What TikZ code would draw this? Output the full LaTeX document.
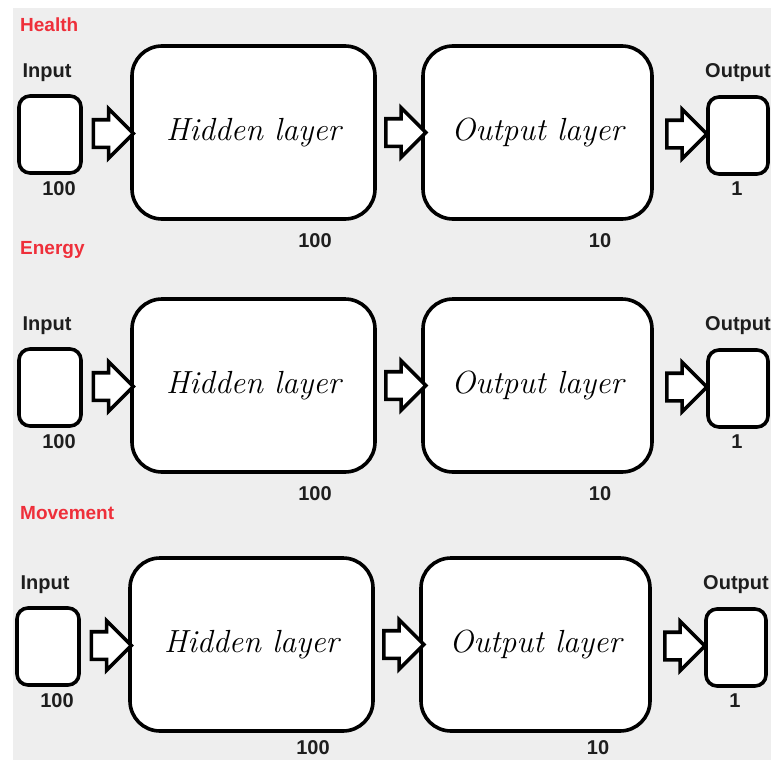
\documentclass[tikz,border=0pt]{standalone}
\usepackage{fontspec}
\setsansfont{Liberation Sans}
\usepackage{tikz}
\usetikzlibrary{shapes.arrows,calc}
\definecolor{bggray}{HTML}{EEEEEE}
\definecolor{titlered}{HTML}{EE2F3A}
\definecolor{labelgray}{HTML}{1E1E1E}
\tikzstyle{smallbox}=[draw=black, fill=white, line width=3.6pt, rounded corners=11pt, inner sep=0, minimum width=62pt, minimum height=77pt]
\tikzstyle{layerbox}=[draw=black, fill=white, line width=3.6pt, rounded corners=30pt, inner sep=0, minimum height=173pt, font=\fontsize{32}{38}\selectfont\itshape]
\tikzstyle{blockarrow}=[single arrow, draw=black, fill=white, line width=3.6pt, inner xsep=0, inner ysep=12pt, minimum height=40pt, minimum width=46pt, single arrow head extend=11pt]
\tikzstyle{tag}=[text=labelgray, font=\fontsize{20}{24}\selectfont\sffamily\bfseries, inner sep=0]
\tikzstyle{title}=[text=titlered, anchor=west, font=\fontsize{19}{23}\selectfont\sffamily\bfseries, inner sep=0]

\begin{document}
\begin{tikzpicture}[x=1pt, y=-1pt]
	\useasboundingbox (0,0) rectangle (771,760);
	\fill[bggray] (13,8) rectangle (771,760);
	\node[title] (t1) at (20,25){Health};
	\node[title] (t2) at (20,250){Energy};
	\node[title] (t3) at (20,513){Movement};
	\foreach \r/\dx/\dy/\ny in {1/0/0/241, 2/0/253/241, 3/-2/512/236}{
	\begin{scope}[shift={(\dx,\dy)}]
		\node[smallbox] (in\r) at (50,134.5){};
		\node[layerbox, minimum width=243pt] (hid\r) at (253.5,132.5){Hidden layer};
		\node[layerbox, minimum width=229pt] (ol\r) at (537.5,132.5){Output layer};
		\node[smallbox, minimum width=60pt] (res\r) at (738,135.5){};
		\node[tag] (inl\r) at (47,73){Input};
		\node[tag] (resl\r) at (738,73){Output};
		\node[tag] (inn\r) at (59,189){100};
		\node[tag] (resn\r) at (737,189){1};
		\node[tag] (hidn\r) at (315,\ny){100};
		\node[tag] (oln\r) at (600,\ny){10};
		\node[blockarrow] (a\r) at ($(in\r.east)!0.5!(hid\r.west)$){};
		\node[blockarrow] (b\r) at ($(hid\r.east)!0.5!(ol\r.west)$){};
		\node[blockarrow] (c\r) at ($(ol\r.east)!0.5!(res\r.west)$){};
	\end{scope}
	}
\end{tikzpicture}
\end{document}
